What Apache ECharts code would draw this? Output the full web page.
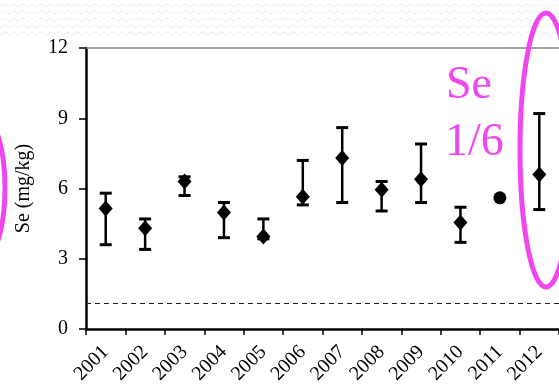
<!DOCTYPE html>
<html>
<head>
<meta charset="utf-8">
<script src="https://cdn.jsdelivr.net/npm/echarts@6/dist/echarts.min.js"></script>
<style>
  html, body { margin: 0; padding: 0; background: #fff; }
  #chart { width: 559px; height: 391px; }
</style>
</head>
<body>
<div id="chart"></div>
<script>
// Annual selenium concentration, mean with low/high range
var years = ['2001','2002','2003','2004','2005','2006','2007','2008','2009','2010','2011','2012'];
var meanSe = [5.15, 4.3, 6.3, 4.97, 3.95, 5.65, 7.3, 5.95, 6.4, 4.55, 5.6, 6.6];
var lowSe  = [3.6, 3.4, 5.7, 3.9, 3.85, 5.3, 5.4, 5.04, 5.4, 3.7, null, 5.1];
var highSe = [5.8, 4.7, 6.5, 5.4, 4.7, 7.2, 8.6, 6.3, 7.9, 5.2, null, 9.2];
var yTicks = [0, 3, 6, 9, 12];
var thresholdSe = 1.1;

var FONT = 'Liberation Serif';
var PINK = '#f046f0';

var diamondPts = [], circlePts = [], rangeData = [];
years.forEach(function (y, i) {
  if (lowSe[i] == null) circlePts.push([y, meanSe[i]]);
  else diamondPts.push([y, meanSe[i]]);
  if (lowSe[i] != null) rangeData.push([y, lowSe[i], highSe[i]]);
});

// faint zigzag backdrop along the top of the page
var zigzags = [];
for (var r = 0; r < 5; r++) {
  var pts = [];
  for (var x = -4; x <= 563; x += 4.5) {
    pts.push([x, 4 + r * 7 + ((Math.round((x + 4) / 4.5) % 2) ? 3 : 0)]);
  }
  zigzags.push({ type: 'polyline', shape: { points: pts }, style: { stroke: '#ececec', lineWidth: 1, fill: null }, silent: true, z: -1 });
}

var chart = echarts.init(document.getElementById('chart'));
chart.setOption({
  animation: false,
  grid: { left: 86, top: 48, width: 484, bottom: 62, containLabel: false },
  xAxis: {
    type: 'category',
    data: years,
    boundaryGap: true,
    axisLine: { lineStyle: { color: '#000', width: 2.5 } },
    axisTick: { show: true, length: 6, lineStyle: { color: '#000', width: 1.5 } },
    axisLabel: { rotate: 45, margin: 20, interval: 0, color: '#000', fontFamily: FONT, fontSize: 20 },
    splitLine: { show: false }
  },
  yAxis: {
    type: 'value',
    min: yTicks[0], max: yTicks[yTicks.length - 1], interval: 3,
    name: 'Se (mg/kg)',
    nameLocation: 'middle',
    nameGap: 52,
    nameRotate: 90,
    nameTextStyle: { color: '#000', fontFamily: FONT, fontSize: 20 },
    axisLine: { show: true, lineStyle: { color: '#000', width: 2.5 } },
    axisTick: { show: true, inside: false, length: 7, lineStyle: { color: '#000', width: 1.5 } },
    axisLabel: { margin: 18, color: '#000', fontFamily: FONT, fontSize: 20 },
    splitLine: { show: false }
  },
  graphic: zigzags.concat([
    { type: 'ellipse', shape: { cx: -22, cy: 188, rx: 27, ry: 78 }, style: { stroke: PINK, lineWidth: 5, fill: null }, z: 50 },
    { type: 'ellipse', shape: { cx: 546, cy: 150, rx: 26, ry: 137 }, style: { stroke: PINK, lineWidth: 5, fill: null }, z: 50 },
    { type: 'text', left: 446, top: 63, style: { text: 'Se', fill: PINK, font: '46px "Liberation Serif"' }, z: 50 },
    { type: 'text', left: 445, top: 120, style: { text: '1/6', fill: PINK, font: '46px "Liberation Serif"' }, z: 50 }
  ]),
  series: [
    {
      type: 'custom',
      data: rangeData,
      encode: { x: 0, y: [1, 2] },
      renderItem: function (params, api) {
        var lo = api.coord([api.value(0), api.value(1)]);
        var hi = api.coord([api.value(0), api.value(2)]);
        var half = 6;
        return {
          type: 'group',
          children: [
            { type: 'line', shape: { x1: lo[0], y1: lo[1], x2: hi[0], y2: hi[1] }, style: { stroke: '#000', lineWidth: 2.5 } },
            { type: 'line', shape: { x1: lo[0] - half, y1: lo[1], x2: lo[0] + half, y2: lo[1] }, style: { stroke: '#000', lineWidth: 3 } },
            { type: 'line', shape: { x1: hi[0] - half, y1: hi[1], x2: hi[0] + half, y2: hi[1] }, style: { stroke: '#000', lineWidth: 3 } }
          ]
        };
      },
      z: 3
    },
    {
      type: 'scatter',
      data: diamondPts,
      symbol: 'diamond',
      symbolSize: [14, 16],
      itemStyle: { color: '#000', opacity: 1 },
      z: 4,
      markLine: {
        silent: true,
        symbol: 'none',
        label: { show: false },
        data: [
          { yAxis: thresholdSe, lineStyle: { color: '#222', type: [5, 4], width: 1 } },
          { yAxis: yTicks[yTicks.length - 1], lineStyle: { color: '#888', type: 'solid', width: 1.5 } }
        ]
      }
    },
    {
      type: 'scatter',
      data: circlePts,
      symbol: 'circle',
      symbolSize: 13,
      itemStyle: { color: '#000', opacity: 1 },
      z: 4
    }
  ]
});
</script>
</body>
</html>
